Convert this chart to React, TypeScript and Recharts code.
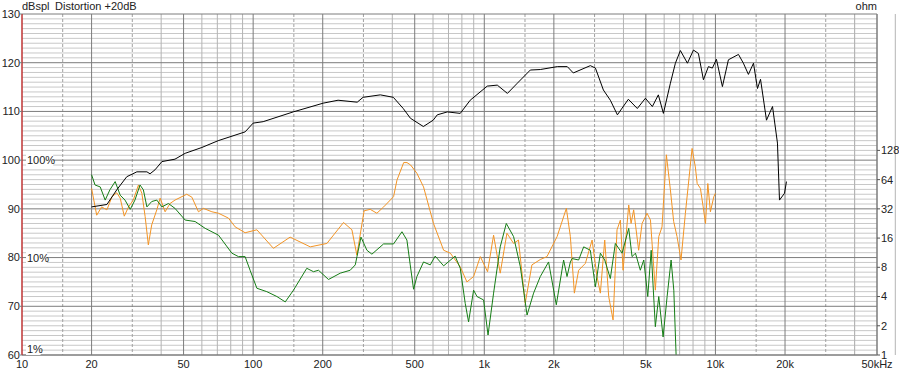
import React from 'react'
import { LineChart, CartesianGrid, XAxis, YAxis, Line } from 'recharts'

// SPL response (Hz, dBspl)
const splFreq = [20, 23.3, 25.7, 28.4, 31.4, 34.7, 35.8, 37.6, 40.3, 45.9, 50.8, 60, 70.6, 92.3, 100, 110.5, 149, 201, 233, 282,
  299, 355, 404, 446, 479, 545, 601, 626, 692, 787, 869, 1030, 1138, 1259, 1390, 1582, 1747, 2070, 2286, 2427,
  2876, 3025, 3275, 3510, 3766, 4200, 4592, 4977, 5334, 5662, 5956, 6385, 6711, 7053, 7564, 8035, 8440, 8872, 9325, 9700,
  10100, 10720, 11380, 12580, 13210, 13890, 14610, 15200, 15670, 16630, 17660, 18550, 18930, 19900, 20290]
const splDb = [90.4, 90.9, 93.9, 96.6, 97.6, 97.6, 97.2, 98.0, 99.7, 100.2, 101.4, 102.6, 104.0, 105.8, 107.6, 107.9, 109.9, 111.7, 112.3, 111.9,
  112.9, 113.4, 112.9, 110.6, 108.6, 106.9, 108.2, 109.3, 109.9, 109.6, 112.3, 115.2, 115.4, 113.7, 115.8, 118.5, 118.6, 119.2, 119.2, 117.9,
  119.4, 118.9, 114.4, 112.3, 109.3, 112.5, 110.6, 112.7, 111.0, 113.4, 109.6, 115.8, 119.9, 122.5, 119.9, 122.6, 121.9, 116.5, 119.2, 118.9,
  120.7, 115.1, 120.6, 121.7, 119.9, 117.6, 119.9, 114.7, 116.6, 108.2, 111.0, 103.5, 91.8, 93.2, 95.6]

// 2nd harmonic distortion (+20dB), orange
const k2Freq = [20, 21.05, 22.1, 23.3, 24.5, 25.7, 26.6, 27.7, 28.9, 30.3, 31.9, 33.0, 34.1, 35.2, 36.4, 38.3, 39.6, 41.6, 43.7, 45.9,
  51.6, 54.3, 58.0, 60.9, 66.3, 70.8, 78.2, 83.6, 92.3, 103.8, 122.4, 144.5, 176.6, 208.5, 246, 267.5, 281, 302, 321, 343,
  367, 405, 419, 448, 463, 480, 511, 546, 603, 667, 713, 787, 841, 899, 961, 1033, 1097, 1172, 1253, 1339,
  1406, 1503, 1607, 1747, 1867, 2065, 2265, 2357, 2453, 2560, 2737, 2927, 3073, 3178, 3319, 3453, 3607, 3752, 3880, 3985,
  4216, 4315, 4428, 4654, 4816, 5059, 5235, 5495, 5686, 5874, 6134, 6385, 6596, 6823, 7097, 7413, 7925, 8185, 8337, 8610,
  8851, 9057, 9270, 9510, 9840, 10000]
const k2Db = [94.2, 88.7, 90.4, 89.8, 92.5, 93.3, 92.2, 88.5, 90.4, 91.8, 94.9, 93.2, 88.4, 82.6, 86.7, 89.8, 92.2, 89.4, 91.1, 91.8,
  93.0, 92.4, 89.4, 90.1, 89.4, 89.1, 88.1, 86.3, 85.1, 85.7, 81.9, 84.2, 82.2, 82.9, 87.2, 85.7, 80.5, 89.6, 89.9, 89.1,
  90.4, 92.5, 95.9, 99.5, 99.5, 99.0, 97.3, 94.5, 87.0, 81.5, 80.9, 78.1, 75.0, 76.1, 80.2, 77.1, 84.6, 76.8, 85.0, 82.9,
  83.6, 70.6, 78.5, 79.6, 80.2, 84.3, 90.1, 84.3, 72.7, 77.4, 78.8, 83.6, 76.1, 72.7, 83.6, 72.0, 67.2, 85.7, 87.7, 77.4,
  90.8, 87.0, 89.8, 81.5, 87.0, 89.1, 87.7, 73.3, 84.3, 86.3, 101.1, 93.9, 87.4, 84.3, 79.5, 89.1, 102.4, 98.6, 95.2, 94.2,
  90.4, 87.0, 95.2, 89.4, 92.5, 93.2]

// 3rd harmonic distortion (+20dB), green
const k3Freq = [20, 20.7, 21.8, 22.9, 24.0, 25.3, 26.6, 27.9, 29.4, 30.8, 32.4, 33.5, 34.7, 36.4, 38.3, 40.3, 43.0, 45.9, 50.8, 56.1,
  62.0, 70.8, 80.9, 86.4, 92.3, 97.0, 103.8, 114.6, 126.7, 137.7, 149.4, 170.6, 182.4, 191.7, 211.8, 238.2, 263, 276.6, 281.3, 292.7,
  310.6, 326.4, 366.7, 405, 440.4, 462.6, 478.2, 494.4, 511, 546, 583.6, 613.2, 667, 748, 787, 827, 855, 899, 930, 993,
  1038, 1097, 1172, 1245, 1339, 1432, 1531, 1634, 1747, 1897, 2049, 2204, 2280, 2357, 2398, 2560, 2691, 2876, 3025, 3178,
  3319, 3510, 3689, 3945, 4216, 4357, 4508, 4732, 4897, 5096, 5272, 5495, 5686, 5937, 6180, 6430, 6605, 6758]
const k3Db = [97.0, 94.9, 94.5, 91.8, 93.9, 95.6, 92.8, 91.8, 89.9, 91.8, 94.9, 93.9, 90.4, 91.5, 91.8, 90.4, 91.1, 90.1, 87.7, 87.4,
  86.0, 84.6, 80.9, 80.2, 80.2, 77.4, 73.7, 73.0, 72.0, 70.9, 73.3, 77.8, 77.1, 77.4, 75.5, 76.8, 77.4, 78.5, 80.2, 84.2,
  81.5, 80.7, 82.8, 82.8, 85.3, 83.6, 78.5, 73.5, 76.1, 79.1, 78.5, 80.3, 78.3, 80.3, 77.8, 70.6, 66.8, 73.3, 72.0, 71.3,
  64.1, 72.7, 82.2, 87.0, 84.3, 78.1, 68.2, 72.7, 76.1, 79.1, 70.3, 79.5, 76.1, 79.1, 79.8, 79.5, 82.2, 81.5, 74.0, 80.9,
  79.5, 75.7, 82.9, 80.9, 86.0, 80.2, 80.9, 77.4, 79.5, 72.0, 81.5, 65.8, 72.0, 63.7, 72.0, 79.5, 73.3, 60.0]

const freqTicks = [10, 20, 50, 100, 200, 500, 1000, 2000, 5000, 10000, 20000, 50000]
const dbTicks = [60, 70, 80, 90, 100, 110, 120, 130]
const ohmTicks = [1, 2, 4, 8, 16, 32, 64, 128]
const pctLabels = [
  { db: 100, text: '100%' },
  { db: 80, text: '10%' },
  { db: 60, text: '1%' },
]

const spl = splFreq.map((f, i) => ({ f, v: splDb[i] }))
const k2 = k2Freq.map((f, i) => ({ f, v: k2Db[i] }))
const k3 = k3Freq.map((f, i) => ({ f, v: k3Db[i] }))

// grid lines
const decades = [10, 100, 1000, 10000]
const vMajor = freqTicks
const vDashed = decades.flatMap(d => [1.5 * d, 3 * d])
const vMinor = [...decades.flatMap(d => [4 * d, 6 * d, 7 * d, 8 * d, 9 * d]), 40000]
const hMinor: number[] = []
for (let v = 61; v < 130; v++) if (v % 10 !== 0) hMinor.push(v)

// ohm axis shares the dB scale: 6 dB per octave, 1 ohm at 60 dB
const ohmToDb = (o: number) => 60 + 6 * Math.log2(o)

const W = 899
const H = 370
const M = { top: 14, right: 0, bottom: 0, left: 0 }
const AXIS_W = 22
const AXIS_H = 15
// plot area, for the overlay annotations
const plotTop = M.top
const plotBottom = H - M.bottom - AXIS_H
const plotLeft = M.left + AXIS_W
const plotRight = W - M.right - AXIS_W
const dbToY = (db: number) => plotTop + ((130 - db) / 70) * (plotBottom - plotTop)

const font = 'Liberation Sans, Arial, sans-serif'

const fmtFreq = (v: number) => {
  if (v === 50000) return '50kHz'
  if (v >= 1000) return v / 1000 + 'k'
  return String(v)
}

export default function App() {
  return (
    <div style={{ position: 'absolute', left: 0, top: 0, background: '#fff' }}>
      <LineChart width={W} height={H} margin={M}>
        <CartesianGrid yAxisId="db" vertical={false} horizontalValues={hMinor} stroke="#c8c8c8" />
        <CartesianGrid yAxisId="db" horizontal={false} verticalValues={vMinor} stroke="#b4b4b4" />
        <CartesianGrid yAxisId="db" horizontal={false} verticalValues={vDashed} stroke="#a0a0a0" strokeDasharray="3 2" />
        <CartesianGrid yAxisId="db" vertical={false} horizontalValues={dbTicks} stroke="#7c7c7c" />
        <CartesianGrid yAxisId="db" horizontal={false} verticalValues={vMajor} stroke="#7c7c7c" />
        <XAxis
          dataKey="f"
          type="number"
          scale="log"
          domain={[10, 50000]}
          ticks={freqTicks}
          tickFormatter={fmtFreq}
          allowDataOverflow
          height={AXIS_H}
          tickLine={false}
          tickSize={5}
          tickMargin={0}
          axisLine={{ stroke: '#7c7c7c' }}
          tick={{ fontSize: 11, fontFamily: font, fill: '#222' }}
          interval={0}
        />
        <YAxis
          yAxisId="db"
          type="number"
          domain={[60, 130]}
          ticks={dbTicks}
          allowDataOverflow
          width={AXIS_W}
          tickSize={2}
          tickMargin={0}
          tickLine={{ stroke: '#7c7c7c' }}
          axisLine={{ stroke: '#e01010' }}
          tick={{ fontSize: 11, fontFamily: font, fill: '#222' }}
          interval={0}
        />
        <YAxis
          yAxisId="ohm"
          orientation="right"
          type="number"
          domain={[60, 130]}
          ticks={ohmTicks.map(ohmToDb)}
          tickFormatter={(v: number) => String(Math.round(Math.pow(2, (v - 60) / 6)))}
          allowDataOverflow
          width={AXIS_W}
          tickSize={3}
          tickMargin={1}
          tickLine={{ stroke: '#555' }}
          axisLine={{ stroke: '#7c7c7c' }}
          tick={{ fontSize: 11, fontFamily: font, fill: '#222', textAnchor: 'start' }}
          interval={0}
        />
        <Line yAxisId="db" data={k2} dataKey="v" stroke="#f39424" strokeWidth={1} dot={false} isAnimationActive={false} type="linear" />
        <Line yAxisId="db" data={k3} dataKey="v" stroke="#157d15" strokeWidth={1} dot={false} isAnimationActive={false} type="linear" />
        <Line yAxisId="db" data={spl} dataKey="v" stroke="#000" strokeWidth={1} dot={false} isAnimationActive={false} type="linear" />
      </LineChart>
      <svg width={W} height={H} style={{ position: 'absolute', left: 0, top: 0, pointerEvents: 'none' }}>
        <text x={plotLeft} y={10} fontSize={11} fontFamily={font} fill="#222">dBspl</text>
        <text x={plotLeft + 33} y={10} fontSize={11} fontFamily={font} fill="#222">Distortion +20dB</text>
        <text x={plotRight} y={10} fontSize={11} fontFamily={font} fill="#222" textAnchor="end">ohm</text>
        {pctLabels.map(p => {
          const y = dbToY(p.db) - (p.db === 60 ? 6 : 0)
          const x = plotLeft + 4
          return (
            <g key={p.text}>
              <rect x={x} y={y - 6} width={p.text.length * 6.3 + 2} height={12} fill="#fff" />
              <text x={x + 1} y={y + 4} fontSize={11} fontFamily={font} fill="#222">{p.text}</text>
            </g>
          )
        })}
      </svg>
    </div>
  )
}
